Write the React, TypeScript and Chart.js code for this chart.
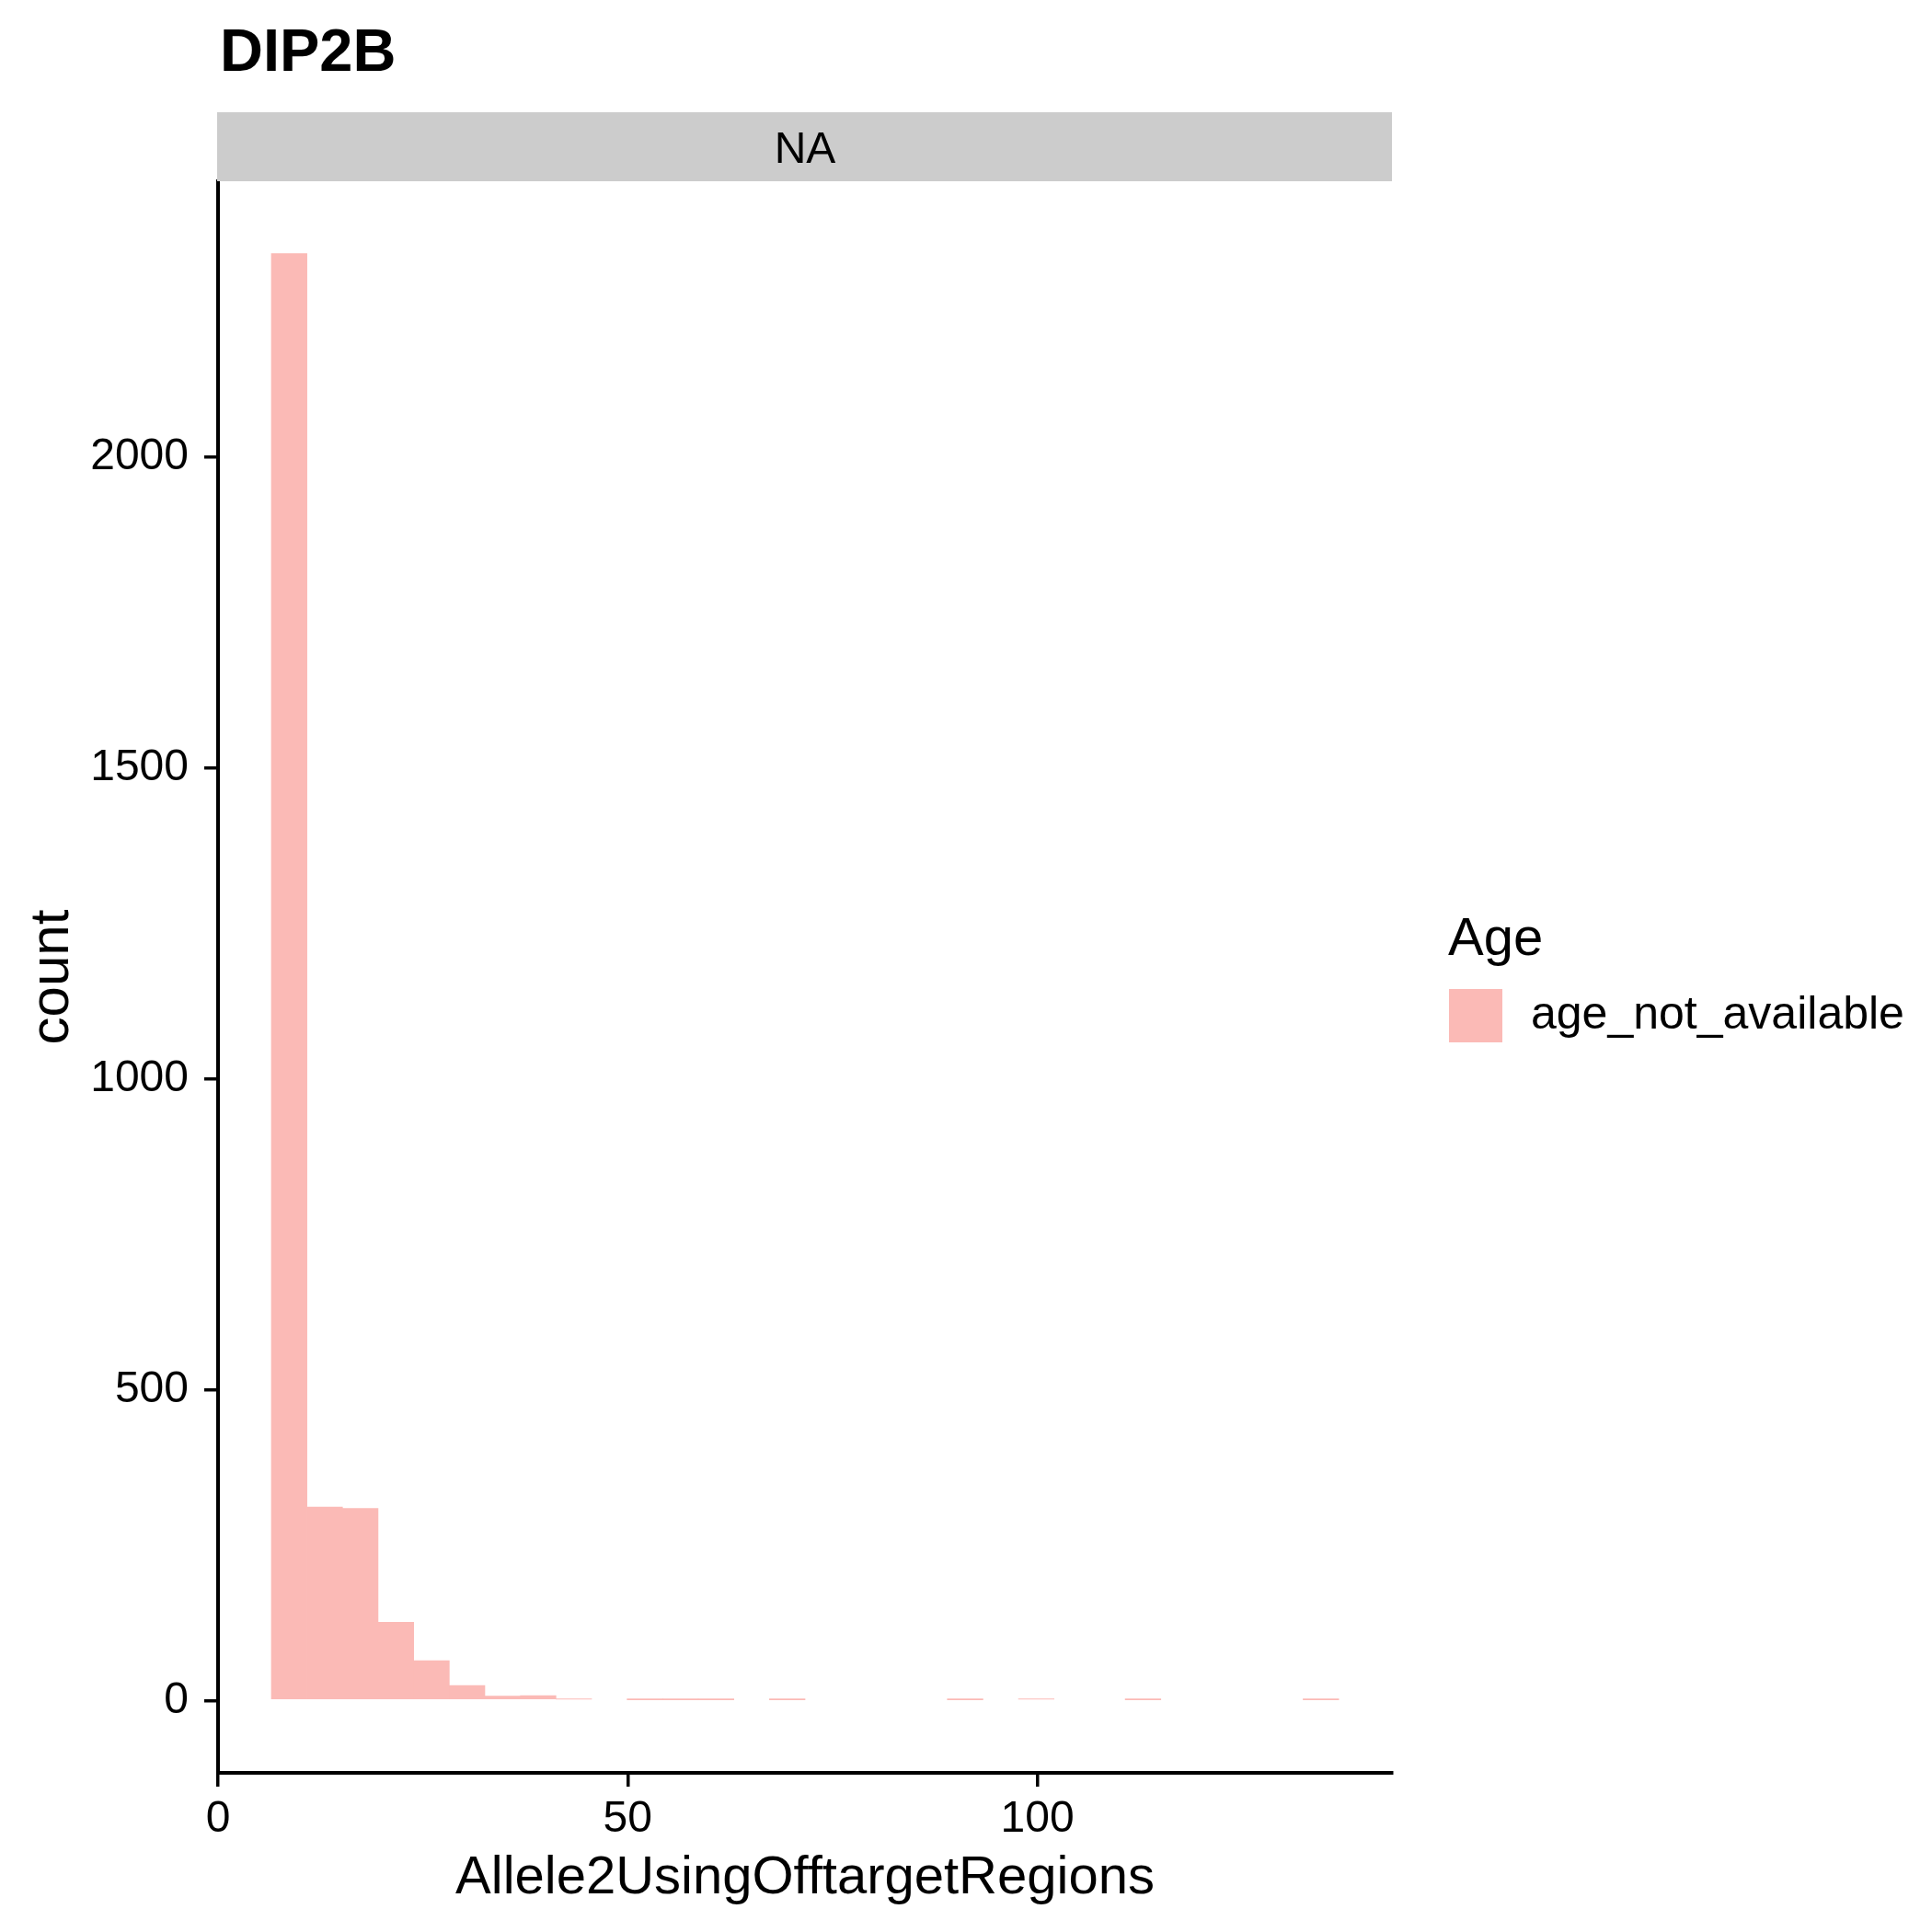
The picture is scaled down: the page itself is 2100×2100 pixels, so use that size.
import React, { useEffect, useRef } from "react";
import { Chart, registerables } from "chart.js";

Chart.register(...registerables);

// ---- data ----
const chartTitle = "DIP2B";
const stripLabel = "NA";
const xTitle = "Allele2UsingOfftargetRegions";
const yTitle = "count";
const legendTitle = "Age";
const seriesName = "age_not_available";

const binCenters = [
  8.68, 13.02, 17.36, 21.71, 26.05, 30.39, 34.73, 39.07, 43.42, 47.76,
  52.1, 56.44, 60.78, 65.13, 69.47, 73.81, 78.15, 82.49, 86.84, 91.18,
  95.52, 99.86, 104.2, 108.55, 112.89, 117.23, 121.57, 125.91, 130.26, 134.6,
];
const counts = [
  2327, 311, 309, 126, 64, 24, 7, 8, 2, 0,
  1, 1, 1, 0, 1, 0, 0, 0, 0, 1,
  0, 2, 0, 0, 1, 0, 0, 0, 0, 1,
];
const xTicks = [0, 50, 100];
const yTicks = [0, 500, 1000, 1500, 2000];
const xMin = 0;
const xMax = 143.27;
const yMin = -116.35;
const yMax = 2443.35;

const FONT = "'Liberation Sans', Arial, Helvetica, sans-serif";
const FILL = "#FBBAB6";

const decorPlugin = {
  id: "decor",
  afterDraw(chart: any) {
    const { ctx, chartArea: a } = chart;
    ctx.save();
    // strip
    ctx.fillStyle = "#CCCCCC";
    ctx.fillRect(a.left - 1, 122, a.right - a.left + 1, a.top - 122);
    ctx.fillStyle = "#000";
    ctx.textAlign = "center";
    ctx.textBaseline = "alphabetic";
    ctx.font = `48px ${FONT}`;
    ctx.fillText(stripLabel, (a.left + a.right) / 2, 176.5);

    // title
    ctx.textAlign = "left";
    ctx.font = `bold 65px ${FONT}`;
    ctx.fillText(chartTitle, 239, 77);

    // x title
    ctx.textAlign = "center";
    ctx.font = `58px ${FONT}`;
    ctx.fillText(xTitle, (a.left + a.right) / 2, 2058);

    // y title
    ctx.save();
    ctx.translate(74, (a.top + a.bottom) / 2);
    ctx.rotate(-Math.PI / 2);
    ctx.textAlign = "center";
    ctx.font = `60px ${FONT}`;
    ctx.fillText(yTitle, 0, 0);
    ctx.restore();

    // legend
    ctx.textAlign = "left";
    ctx.font = `58px ${FONT}`;
    ctx.fillText(legendTitle, 1574, 1038);
    const ds = chart.data.datasets[0];
    ctx.fillStyle = ds.backgroundColor;
    ctx.fillRect(1575, 1075, 58, 58);
    ctx.fillStyle = "#000";
    ctx.font = `50px ${FONT}`;
    ctx.textBaseline = "middle";
    ctx.fillText(ds.label, 1664, 1104);
    ctx.restore();
  },
};

export default function App() {
  const ref = useRef<HTMLCanvasElement>(null);
  useEffect(() => {
    if (!ref.current) return;
    const chart = new Chart(ref.current, {
      type: "bar",
      data: {
        datasets: [
          {
            label: seriesName,
            data: binCenters.map((x, i) => ({ x, y: counts[i] === 0 ? null : counts[i] })),
            backgroundColor: FILL,
            borderWidth: 0,
            barPercentage: 1,
            categoryPercentage: 1,
          },
        ],
      },
      options: {
        animation: false,
        responsive: false,
        devicePixelRatio: 1,
        layout: { padding: { top: 197, right: 587, bottom: 0, left: 0 } },
        plugins: { legend: { display: false }, title: { display: false }, tooltip: { enabled: false } },
        scales: {
          x: {
            type: "linear",
            min: xMin,
            max: xMax,
            offset: false,
            afterFit(scale: any) {
              scale.height = 173;
            },
            afterBuildTicks(scale: any) {
              scale.ticks = xTicks.map((v) => ({ value: v }));
            },
            grid: { display: true, offset: false, drawOnChartArea: false, drawTicks: true, tickLength: 15, color: "#000", lineWidth: 3.5 },
            border: { display: true, color: "#000", width: 4 },
            ticks: {
              color: "#000",
              font: { family: FONT, size: 48 },
              padding: 7,
              maxRotation: 0,
              autoSkip: false,
              callback: (v: any) => String(v),
            },
          },
          y: {
            type: "linear",
            min: yMin,
            max: yMax,
            afterFit(scale: any) {
              scale.width = 237;
            },
            afterBuildTicks(scale: any) {
              scale.ticks = yTicks.map((v) => ({ value: v }));
            },
            grid: { display: true, drawOnChartArea: false, drawTicks: true, tickLength: 15, color: "#000", lineWidth: 3.5 },
            border: { display: true, color: "#000", width: 4 },
            ticks: {
              color: "#000",
              font: { family: FONT, size: 48 },
              padding: 17,
              autoSkip: false,
              callback: (v: any) => String(v),
            },
          },
        },
      },
      plugins: [decorPlugin],
    });
    return () => chart.destroy();
  }, []);
  return (
    <div style={{ position: "absolute", left: 0, top: 0, width: 2100, height: 2100, background: "#fff" }}>
      <canvas ref={ref} width={2100} height={2100} style={{ width: 2100, height: 2100, display: "block" }} />
    </div>
  );
}
